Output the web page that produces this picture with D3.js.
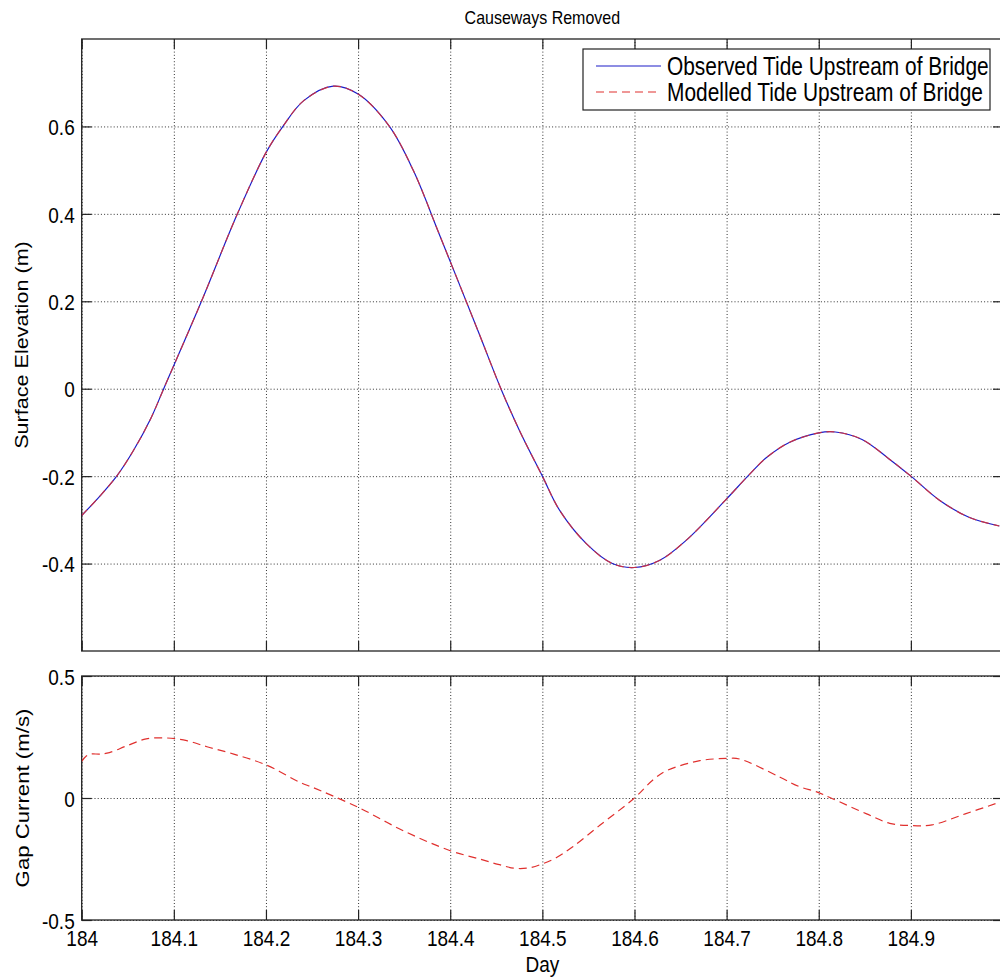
<!DOCTYPE html>
<html>
<head>
<meta charset="utf-8">
<script src="https://cdn.jsdelivr.net/npm/d3@7"></script>
<style>
  html, body { margin: 0; padding: 0; background: #fff; }
  svg { display: block; font-family: "Liberation Sans", Arial, sans-serif; }
</style>
</head>
<body>
<svg id="chart" width="1000" height="979"></svg>
<script>
// ---- data -------------------------------------------------------------
// Surface elevation upstream of the bridge (m) against day of year
const elevDay = [184.000, 184.020, 184.038, 184.056, 184.075, 184.089, 184.130, 184.169,
  184.200, 184.219, 184.241, 184.273, 184.300, 184.334, 184.360, 184.388, 184.430,
  184.455, 184.475, 184.500, 184.519, 184.548, 184.576, 184.600, 184.627, 184.656,
  184.700, 184.723, 184.743, 184.768, 184.800, 184.818, 184.847, 184.876, 184.900,
  184.931, 184.963, 184.996];
const elevObserved = [-0.290, -0.245, -0.200, -0.142, -0.068, 0.000, 0.200, 0.400,
  0.540, 0.602, 0.659, 0.692, 0.674, 0.600, 0.499, 0.354, 0.133,
  0.000, -0.095, -0.200, -0.279, -0.355, -0.400, -0.409, -0.393, -0.347,
  -0.252, -0.200, -0.158, -0.123, -0.101, -0.099, -0.116, -0.160, -0.200,
  -0.255, -0.294, -0.314];
const elevModelled = [-0.290, -0.245, -0.200, -0.142, -0.068, 0.000, 0.200, 0.400,
  0.540, 0.602, 0.659, 0.692, 0.674, 0.600, 0.499, 0.354, 0.133,
  0.000, -0.095, -0.200, -0.279, -0.355, -0.400, -0.409, -0.393, -0.347,
  -0.252, -0.200, -0.158, -0.123, -0.101, -0.099, -0.116, -0.160, -0.200,
  -0.255, -0.294, -0.314];

// Modelled current through the gap (m/s)
const currentDay = [184.000, 184.005, 184.010, 184.020, 184.030, 184.049, 184.070, 184.092,
  184.114, 184.136, 184.165, 184.200, 184.237, 184.251, 184.300, 184.349, 184.400,
  184.432, 184.452, 184.470, 184.486, 184.500, 184.515, 184.533, 184.562, 184.600, 184.620,
  184.635, 184.671, 184.700, 184.714, 184.758, 184.778, 184.799, 184.815, 184.852,
  184.877, 184.900, 184.923, 184.959, 184.996];
const currentModelled = [0.150, 0.172, 0.180, 0.180, 0.186, 0.214, 0.242, 0.246,
  0.235, 0.210, 0.180, 0.136, 0.064, 0.043, -0.038, -0.134, -0.216,
  -0.250, -0.272, -0.288, -0.286, -0.270, -0.245, -0.200, -0.113, 0.000, 0.074,
  0.112, 0.153, 0.162, 0.160, 0.085, 0.048, 0.023, -0.003, -0.065,
  -0.104, -0.113, -0.110, -0.065, -0.018];

// ---- ticks ------------------------------------------------------------
const dayTicks = [184, 184.1, 184.2, 184.3, 184.4, 184.5, 184.6, 184.7, 184.8, 184.9, 185];
const dayTickLabels = ["184", "184.1", "184.2", "184.3", "184.4", "184.5", "184.6", "184.7", "184.8", "184.9", ""];
const elevTicks = [-0.4, -0.2, 0, 0.2, 0.4, 0.6];
const elevTickLabels = ["-0.4", "-0.2", "0", "0.2", "0.4", "0.6"];
const currentTicks = [-0.5, 0, 0.5];
const currentTickLabels = ["-0.5", "0", "0.5"];

const legendLabels = ["Observed Tide Upstream of Bridge", "Modelled Tide Upstream of Bridge"];

// ---- layout -----------------------------------------------------------
const svg = d3.select("#chart");
const STRETCH = 1.2;          // glyphs are drawn a little taller than wide
const BLUE = "#1c1cc8", RED = "#e0302e";
const left = 81.7, right = 1003;
const top1 = { y0: 39, y1: 651 };
const bot  = { y0: 676, y1: 920 };

const x = d3.scaleLinear().domain([184, 185]).range([left, right]);
const yElev = d3.scaleLinear().domain([-0.6, 0.8]).range([top1.y1, top1.y0]);
const yCur = d3.scaleLinear().domain([-0.5, 0.5]).range([bot.y1, bot.y0]);

function stretchText(sel) {
  sel.attr("transform", function () {
    const prev = d3.select(this).attr("transform");
    return (prev ? prev + " " : "") + `scale(1,${STRETCH})`;
  });
}

function panel(yScale, yTicks, yLabels, box, showXLabels) {
  const g = svg.append("g");
  const w = right - left, h = box.y1 - box.y0;

  // dotted grid
  g.append("g").attr("transform", `translate(0,${box.y1})`)
    .call(d3.axisBottom(x).tickValues(dayTicks).tickSize(-h).tickFormat(""))
    .call(a => a.select(".domain").remove())
    .selectAll("line").attr("stroke", "#333").attr("stroke-dasharray", "1 2.2").attr("stroke-width", 1);
  g.append("g").attr("transform", `translate(${left},0)`)
    .call(d3.axisLeft(yScale).tickValues(yTicks).tickSize(-w).tickFormat(""))
    .call(a => a.select(".domain").remove())
    .selectAll("line").attr("stroke", "#333").attr("stroke-dasharray", "1 2.2").attr("stroke-width", 1);

  // inward tick marks on all four sides
  const tl = 10;
  const tickAxes = [
    [d3.axisBottom(x).tickValues(dayTicks).tickSize(-tl), `translate(0,${box.y1})`],
    [d3.axisTop(x).tickValues(dayTicks).tickSize(-tl), `translate(0,${box.y0})`],
    [d3.axisLeft(yScale).tickValues(yTicks).tickSize(-tl), `translate(${left},0)`],
    [d3.axisRight(yScale).tickValues(yTicks).tickSize(-tl), `translate(${right},0)`]
  ];
  tickAxes.forEach(([ax, tr]) => {
    g.append("g").attr("transform", tr)
      .call(ax.tickFormat(""))
      .call(a => a.select(".domain").remove())
      .selectAll("line").attr("stroke", "#222").attr("stroke-width", 1.2);
  });

  // box
  g.append("rect").attr("x", left).attr("y", box.y0).attr("width", w).attr("height", h)
    .attr("fill", "none").attr("stroke", "#222").attr("stroke-width", 1.3);

  // y tick labels
  const yl = g.append("g").attr("transform", `translate(${left - 7},0)`)
    .call(d3.axisLeft(yScale).tickValues(yTicks).tickSize(0).tickPadding(0)
      .tickFormat((d, i) => yLabels[i]));
  yl.select(".domain").remove();
  yl.selectAll("text").attr("font-size", 19).attr("fill", "#000")
    .attr("font-family", "Liberation Sans, Arial, sans-serif")
    .attr("dy", "0.36em").call(stretchText);

  if (showXLabels) {
    const xl = g.append("g").attr("transform", `translate(0,${box.y1 + 18})`)
      .call(d3.axisBottom(x).tickValues(dayTicks).tickSize(0).tickPadding(0)
        .tickFormat((d, i) => dayTickLabels[i]));
    xl.select(".domain").remove();
    xl.selectAll("text").attr("y", 0).attr("dy", "0.36em").attr("font-size", 19).attr("fill", "#000")
      .attr("font-family", "Liberation Sans, Arial, sans-serif")
      .call(stretchText);
  }
  return g;
}

const gTop = panel(yElev, elevTicks, elevTickLabels, top1, false);
const gBot = panel(yCur, currentTicks, currentTickLabels, bot, true);

// clip the curves to their panels
const defs = svg.append("defs");
defs.append("clipPath").attr("id", "clipTop").append("rect")
  .attr("x", left).attr("y", top1.y0).attr("width", right - left).attr("height", top1.y1 - top1.y0);
defs.append("clipPath").attr("id", "clipBot").append("rect")
  .attr("x", left).attr("y", bot.y0).attr("width", right - left).attr("height", bot.y1 - bot.y0);

const smooth = d3.curveCatmullRom.alpha(0.5);
const elevLine = (vals) => d3.line()
  .x((d, i) => x(elevDay[i])).y(d => yElev(d))
  .curve(smooth)(vals);

gTop.append("path").attr("clip-path", "url(#clipTop)")
  .attr("d", elevLine(elevObserved))
  .attr("fill", "none").attr("stroke", BLUE).attr("stroke-width", 1.2);
gTop.append("path").attr("clip-path", "url(#clipTop)")
  .attr("d", elevLine(elevModelled))
  .attr("fill", "none").attr("stroke", RED).attr("stroke-width", 1.2)
  .attr("stroke-dasharray", "8 5").attr("opacity", 0.85);

gBot.append("path").attr("clip-path", "url(#clipBot)")
  .attr("d", d3.line().x((d, i) => x(currentDay[i])).y(d => yCur(d))
    .curve(smooth)(currentModelled))
  .attr("fill", "none").attr("stroke", RED).attr("stroke-width", 1.2)
  .attr("stroke-dasharray", "8 5");

// legend
const lg = svg.append("g");
lg.append("rect").attr("x", 583).attr("y", 49).attr("width", 407).attr("height", 61)
  .attr("fill", "#fff").attr("stroke", "#222").attr("stroke-width", 1.2);
const legendStyles = [
  { color: BLUE, dash: null },
  { color: RED, dash: "8 5" }
];
legendLabels.forEach((lab, i) => {
  const yy = 66 + i * 26;
  lg.append("line").attr("x1", 596).attr("x2", 661).attr("y1", yy).attr("y2", yy)
    .attr("stroke", legendStyles[i].color).attr("stroke-width", 1.2)
    .attr("stroke-dasharray", legendStyles[i].dash);
  lg.append("text").attr("transform", `translate(667,${yy})`)
    .attr("font-size", 20.9).attr("dy", "0.36em").attr("fill", "#000")
    .text(lab).call(stretchText);
});

// titles and axis labels
svg.append("text").attr("transform", `translate(${(left + right) / 2},17) scale(1,${STRETCH})`)
  .attr("text-anchor", "middle").attr("dy", "0.36em").attr("font-size", 16).text("Causeways Removed");
svg.append("text").attr("transform", `translate(${(left + right) / 2},964) scale(1,${STRETCH})`)
  .attr("text-anchor", "middle").attr("dy", "0.36em").attr("font-size", 19).text("Day");
svg.append("text").attr("transform", `translate(22,${(top1.y0 + top1.y1) / 2}) scale(1,${STRETCH}) rotate(-90)`)
  .attr("text-anchor", "middle").attr("dy", "0.36em").attr("font-size", 18).text("Surface Elevation (m)");
svg.append("text").attr("transform", `translate(22,${(bot.y0 + bot.y1) / 2}) scale(1,${STRETCH}) rotate(-90)`)
  .attr("text-anchor", "middle").attr("dy", "0.36em").attr("font-size", 18.5).text("Gap Current (m/s)");
</script>
</body>
</html>
